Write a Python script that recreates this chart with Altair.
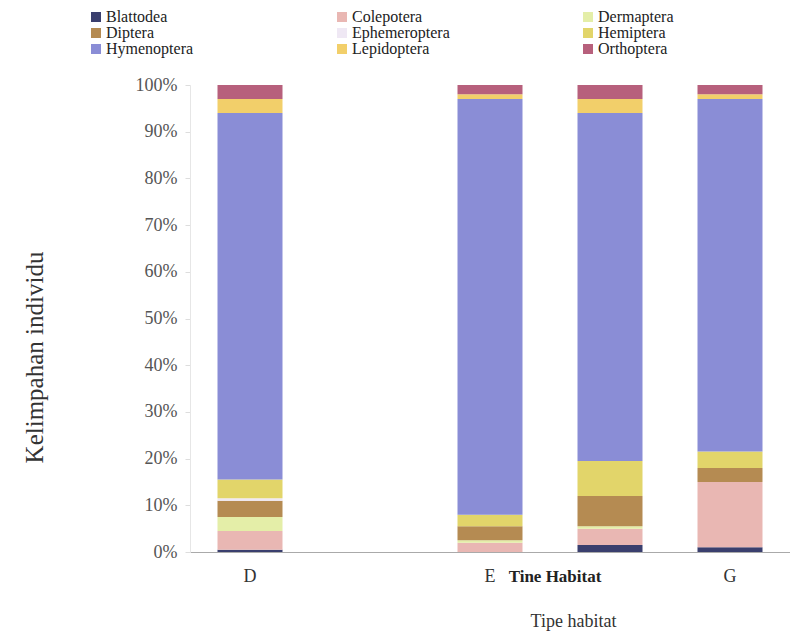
import altair as alt
import pandas as pd

habitats = ["D", "E", "F", "G"]
domain_x = ["D", "C", "E", "F", "G"]
orders = ["Blattodea", "Colepotera", "Dermaptera", "Diptera", "Ephemeroptera",
          "Hemiptera", "Hymenoptera", "Lepidoptera", "Orthoptera"]
colors = ["#3a3f6e", "#e9b7b3", "#e4eea8", "#b58b52", "#efe8f4",
          "#e2d56a", "#8a8dd6", "#f2cf6a", "#b7607c"]
vals_D = [0.5, 4, 3, 3.5, 0.5, 4, 78.5, 3, 3]
vals_E = [0, 2, 0.5, 3, 0, 2.5, 89, 1, 2]
vals_F = [1.5, 3.5, 0.5, 6.5, 0, 7.5, 74.5, 3, 3]
vals_G = [1, 14, 0, 3, 0, 3.5, 75.5, 1, 2]
y_ticks = [0, 0.1, 0.2, 0.3, 0.4, 0.5, 0.6, 0.7, 0.8, 0.9, 1.0]

rows = []
for h, vals in zip(habitats, [vals_D, vals_E, vals_F, vals_G]):
    for i, (o, v) in enumerate(zip(orders, vals)):
        rows.append({"habitat": h, "ordo": o, "value": v, "idx": i})
df = pd.DataFrame(rows)

FONT = "Liberation Serif"

bars = alt.Chart(df).mark_bar(size=65).encode(
    x=alt.X("habitat:N", scale=alt.Scale(domain=domain_x, paddingInner=0.46, paddingOuter=0.23),
            axis=alt.Axis(title="Tipe habitat", labelAngle=0,
                          labelExpr="datum.value == 'C' || datum.value == 'F' ? '' : datum.value",
                          labelFont=FONT, labelFontSize=18, labelColor="#333", labelPadding=15,
                          ticks=False, domainColor="#aaa",
                          titleFont=FONT, titleFontSize=18, titleFontWeight="normal",
                          titleColor="#333", titleX=383, titleY=60)),
    y=alt.Y("value:Q", stack="normalize",
            scale=alt.Scale(domain=[0, 1]),
            axis=alt.Axis(title="Kelimpahan individu", format=".0%", values=y_ticks,
                          grid=False, labelFont=FONT, labelFontSize=18, labelColor="#555",
                          labelPadding=8, tickSize=5, tickColor="#ddd", domainColor="#e6e6e6",
                          titleFont=FONT, titleFontSize=25, titleFontWeight="normal",
                          titleColor="#333", titlePadding=88, titleY=272)),
    color=alt.Color("ordo:N", scale=alt.Scale(domain=orders, range=colors),
                    legend=alt.Legend(title=None, orient="none", legendX=-102, legendY=-76,
                                      columns=3, direction="horizontal", gridAlign="all",
                                      columnPadding=130, rowPadding=0, symbolType="square",
                                      symbolSize=100, symbolStrokeWidth=0, labelFont=FONT,
                                      labelFontSize=16, labelColor="#222", labelOffset=2)),
    order=alt.Order("idx:Q", sort="ascending"),
)

ann = alt.Chart(pd.DataFrame({"t": ["Tine Habitat"], "h": ["F"]})).mark_text(
    font=FONT, fontSize=17, fontWeight="bold", color="#222", dx=-55
).encode(x=alt.X("h:N"), y=alt.value(492), text="t:N")

chart = alt.layer(bars, ann).properties(
    width=600, height=467, padding={"left": 14, "top": 1, "right": 0, "bottom": 5}
).configure_view(stroke=None)

chart.save("out.html", embed_options={"renderer": "svg", "actions": False})
